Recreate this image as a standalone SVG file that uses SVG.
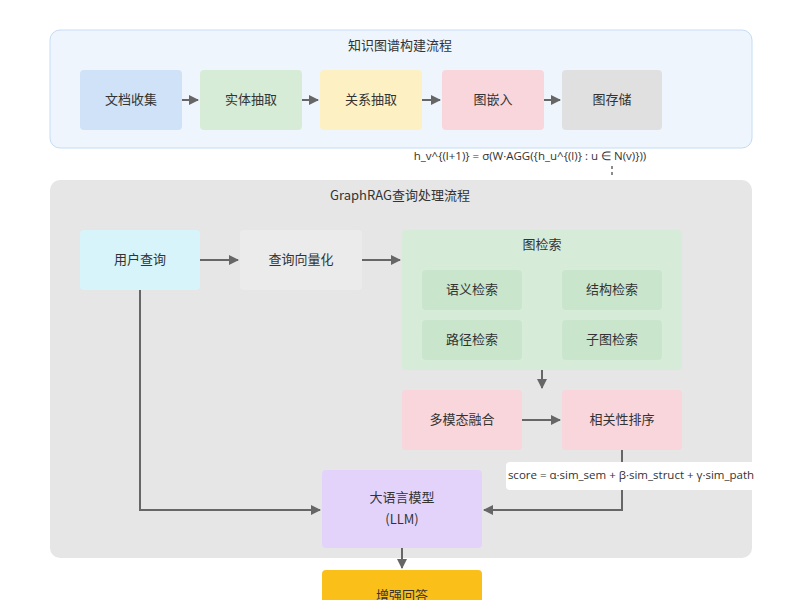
<svg xmlns="http://www.w3.org/2000/svg" width="800" height="600" viewBox="0 0 800 600">
<defs>
<marker id="ah" markerWidth="10" markerHeight="10" refX="9" refY="5" orient="auto" markerUnits="userSpaceOnUse"><path d="M0,0 L10,5 L0,10 z" fill="#666"/></marker>
<style>
text{font-family:"Noto Sans CJK SC","Noto Sans",sans-serif;font-size:13px;fill:#333;text-anchor:middle;dominant-baseline:middle}
.f{font-family:"Open Sans","Noto Sans",sans-serif;font-size:11.5px}
.c{stroke:#666;stroke-width:2;fill:none;marker-end:url(#ah)}
</style>
</defs>
<rect width="800" height="600" fill="#fff"/>
<g id="panel-build">
<rect x="50" y="30" width="702" height="118" rx="10" fill="#eef5fd" stroke="#c6dcf5"/>
<text x="400" y="46">知识图谱构建流程</text>
</g>
<g id="n-doc"><rect x="80" y="70" width="102" height="60" rx="4" fill="#cfe2f7"/><text x="131" y="100">文档收集</text></g>
<g id="n-ent"><rect x="200" y="70" width="102" height="60" rx="4" fill="#d6ecd7"/><text x="251" y="100">实体抽取</text></g>
<g id="n-rel"><rect x="320" y="70" width="102" height="60" rx="4" fill="#fdf1c4"/><text x="371" y="100">关系抽取</text></g>
<g id="n-emb"><rect x="442" y="70" width="102" height="60" rx="4" fill="#f8d6dc"/><text x="493" y="100">图嵌入</text></g>
<g id="n-store"><rect x="562" y="70" width="100" height="60" rx="4" fill="#e0e0e0"/><text x="612" y="100">图存储</text></g>
<text class="f" x="530" y="157">h_v^{(l+1)} = σ(W·AGG({h_u^{(l)} : u ∈ N(v)}))</text>
<g id="panel-query">
<rect x="50" y="180" width="702" height="378" rx="10" fill="#e6e6e6"/>
<text x="400" y="196">GraphRAG查询处理流程</text>
</g>
<g id="n-user"><rect x="80" y="230" width="120" height="60" rx="4" fill="#d8f4fb"/><text x="140" y="260">用户查询</text></g>
<g id="n-vec"><rect x="240" y="230" width="122" height="60" rx="4" fill="#ebebeb"/><text x="301" y="260">查询向量化</text></g>
<g id="n-graph">
<rect x="402" y="230" width="280" height="140" rx="4" fill="#d6ecd9"/>
<text x="542" y="245">图检索</text>
<rect x="422" y="270" width="100" height="40" rx="4" fill="#c9e6cc"/><text x="472" y="290">语义检索</text>
<rect x="562" y="270" width="100" height="40" rx="4" fill="#c9e6cc"/><text x="612" y="290">结构检索</text>
<rect x="422" y="320" width="100" height="40" rx="4" fill="#c9e6cc"/><text x="472" y="340">路径检索</text>
<rect x="562" y="320" width="100" height="40" rx="4" fill="#c9e6cc"/><text x="612" y="340">子图检索</text>
</g>
<g id="n-fuse"><rect x="402" y="390" width="120" height="60" rx="4" fill="#f8d6dc"/><text x="462" y="420">多模态融合</text></g>
<g id="n-rank"><rect x="562" y="390" width="120" height="60" rx="4" fill="#f8d6dc"/><text x="622" y="420">相关性排序</text></g>
<g id="n-llm"><rect x="322" y="470" width="160" height="78" rx="4" fill="#e3d3fb"/><text x="402" y="498">大语言模型</text><text x="402" y="520">(LLM)</text></g>
<g id="n-ans"><rect x="322" y="570" width="160" height="40" rx="4" fill="#fbbf1a"/><text x="402" y="596">增强回答</text></g>
<g id="connectors">
<line class="c" x1="182" y1="100" x2="198" y2="100"/>
<line class="c" x1="302" y1="100" x2="318" y2="100"/>
<line class="c" x1="422" y1="100" x2="440" y2="100"/>
<line class="c" x1="544" y1="100" x2="560" y2="100"/>
<line x1="612" y1="166" x2="612" y2="178" stroke="#666" stroke-width="1.5" stroke-dasharray="3,3"/>
<line class="c" x1="200" y1="260" x2="238" y2="260"/>
<line class="c" x1="362" y1="260" x2="400" y2="260"/>
<line class="c" x1="542" y1="370" x2="542" y2="388"/>
<line class="c" x1="522" y1="420" x2="560" y2="420"/>
<polyline class="c" points="140,290 140,510 320,510"/>
<polyline class="c" points="622,450 622,510 484,510"/>
<line class="c" x1="402" y1="548" x2="402" y2="568"/>
</g>
<g id="score">
<rect x="506" y="462" width="251" height="28" rx="4" fill="#fff"/>
<text class="f" x="631" y="476">score = α·sim_sem + β·sim_struct + γ·sim_path</text>
</g>
</svg>
